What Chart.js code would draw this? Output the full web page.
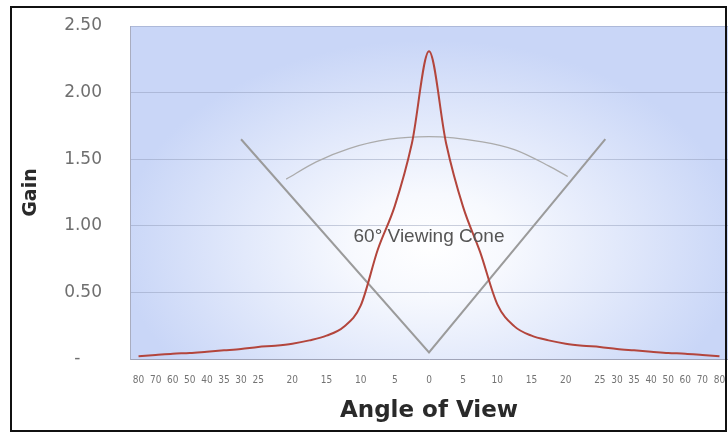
<!DOCTYPE html>
<html>
<head>
<meta charset="utf-8">
<script src="https://cdn.jsdelivr.net/npm/chart.js@4.4.1/dist/chart.umd.min.js"></script>
<style>
  html, body { margin: 0; padding: 0; background: #fff; overflow: hidden; }
  #wrap { position: relative; width: 728px; height: 434px; }
  #gain-chart { display: block; }
  #frame { position: absolute; left: 10px; top: 6px; width: 717px; height: 426px; box-sizing: border-box; border: 2px solid #111; pointer-events: none; }
</style>
</head>
<body>
<div id="wrap">
  <canvas id="gain-chart" width="728" height="434"></canvas>
  <div id="frame"></div>
</div>
<script>
// angle categories: 2.5 deg steps in the middle, only every 5 deg gets a label
const angleLabels = ['80', '70', '60', '50', '40', '35', '30', '25',
    '', '20', '', '15', '', '10', '', '5', '', '0', '', '5', '', '10', '', '15', '', '20', '',
    '25', '30', '35', '40', '50', '60', '70', '80'];
const gainValues = [0.02, 0.03, 0.04, 0.045, 0.055, 0.065, 0.075, 0.09,
    0.10, 0.115, 0.14, 0.175, 0.24, 0.40, 0.82, 1.15, 1.62, 2.31, 1.62, 1.14, 0.80, 0.41, 0.245, 0.175, 0.14, 0.115, 0.10,
    0.09, 0.075, 0.065, 0.055, 0.045, 0.04, 0.03, 0.02];

// viewing cone overlay, x in degrees of the evenly spaced middle part
const coneX = [-27.5, 0, 25.8];
const coneY = [1.65, 0.05, 1.65];
const arcX = [-20.9, -16.5, -11.7, -5.8, 0, 7.8, 12.6, 17.5, 20.3];
const arcY = [1.35, 1.48, 1.58, 1.65, 1.67, 1.63, 1.57, 1.45, 1.37];
const coneText = '60° Viewing Cone';
const coneTextPos = { x: 0, y: 0.92 };

const toPoints = (xs, ys) => xs.map((x, i) => ({ x: x, y: ys[i] }));

// keep the plot box where the layout padding puts it
const noScalePadding = s => {
    s.paddingTop = 0;
    s.paddingBottom = 0;
    s.paddingLeft = 0;
    s.paddingRight = 0;
};

// blue-to-white radial backdrop inside the plot
const plotBackground = {
    id: 'plotBackground',
    beforeDraw(chart) {
        const { ctx, chartArea: a } = chart;
        const cx = 430, cy = 245, rx = 310, ry = 205;
        ctx.save();
        ctx.translate(cx, cy);
        ctx.scale(1, ry / rx);
        const g = ctx.createRadialGradient(0, 0, 0, 0, 0, rx);
        g.addColorStop(0, '#ffffff');
        g.addColorStop(0.25, '#f7f9fe');
        g.addColorStop(0.6, '#e2e9fb');
        g.addColorStop(1, '#c9d6f7');
        ctx.fillStyle = g;
        ctx.fillRect(a.left - cx, (a.top - cy) * rx / ry, a.right - a.left, (a.bottom - a.top) * rx / ry);
        ctx.restore();
    }
};

const coneLabel = {
    id: 'coneLabel',
    afterDatasetsDraw(chart) {
        const { ctx, scales } = chart;
        ctx.save();
        ctx.font = '19px "Liberation Sans", Arial, sans-serif';
        ctx.fillStyle = '#555555';
        ctx.textAlign = 'center';
        ctx.textBaseline = 'middle';
        ctx.fillText(coneText, scales.x2.getPixelForValue(coneTextPos.x), scales.y.getPixelForValue(coneTextPos.y));
        ctx.restore();
    }
};

const ctx = document.getElementById('gain-chart').getContext('2d');
new Chart(ctx, {
    type: 'line',
    data: {
        labels: angleLabels,
        datasets: [{
            label: 'Gain',
            data: gainValues,
            borderColor: '#b3453c',
            borderWidth: 2,
            pointRadius: 0,
            cubicInterpolationMode: 'monotone',
            fill: false
        }, {
            label: 'Cone',
            data: toPoints(coneX, coneY),
            xAxisID: 'x2',
            borderColor: '#9b9b9b',
            borderWidth: 2,
            pointRadius: 0,
            tension: 0
        }, {
            label: 'Arc',
            data: toPoints(arcX, arcY),
            xAxisID: 'x2',
            borderColor: '#ababab',
            borderWidth: 1.3,
            pointRadius: 0,
            cubicInterpolationMode: 'monotone'
        }]
    },
    options: {
        responsive: false,
        animation: false,
        layout: { padding: { top: 26, right: -2, bottom: 0, left: 0 } },
        plugins: { legend: { display: false }, tooltip: { enabled: false } },
        scales: {
            x: {
                type: 'category',
                offset: true,
                afterFit: s => { s.height = 75; noScalePadding(s); },
                grid: { display: false, drawTicks: false },
                border: { display: true, color: '#a0a4b8' },
                ticks: {
                    autoSkip: false,
                    maxRotation: 0,
                    padding: 15,
                    color: '#737373',
                    font: { family: '"Liberation Sans Narrow", "DejaVu Sans Condensed", sans-serif', size: 10 }
                },
                title: {
                    display: true,
                    text: 'Angle of View',
                    color: '#2a2a2a',
                    padding: { top: 0, bottom: 9 },
                    font: { family: '"DejaVu Sans"', size: 23, weight: 'bold' }
                }
            },
            x2: {
                type: 'linear',
                display: false,
                min: -43.75,
                max: 43.75,
                afterFit: noScalePadding
            },
            y: {
                min: 0,
                max: 2.5,
                afterFit: s => { s.width = 130; noScalePadding(s); },
                grid: { color: 'rgba(140,150,180,0.45)', drawTicks: false },
                border: { display: true, color: '#a9adc0' },
                ticks: {
                    stepSize: 0.5,
                    padding: 28,
                    color: '#6f6f6f',
                    font: { family: '"DejaVu Sans"', size: 17 },
                    callback: v => v === 0 ? '-    ' : v.toFixed(2)
                },
                title: {
                    display: true,
                    text: 'Gain',
                    color: '#2a2a2a',
                    padding: { top: 20, bottom: 0 },
                    font: { family: '"DejaVu Sans"', size: 19, weight: 'bold' }
                }
            }
        }
    },
    plugins: [plotBackground, coneLabel]
});
</script>
</body>
</html>
